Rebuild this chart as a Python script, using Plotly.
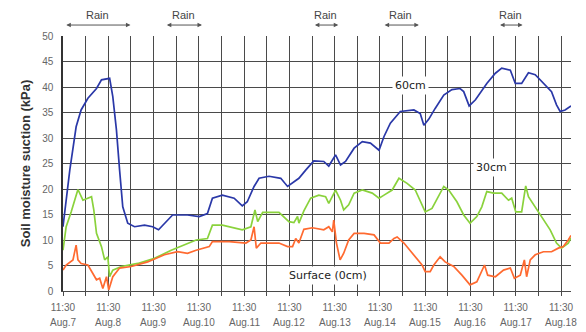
import plotly.graph_objects as go

# Elapsed time in days from Aug 7 11:30, and soil moisture suction (kPa)
day_60 = [0, 0.15, 0.29, 0.40, 0.55, 0.74, 0.85, 1.03, 1.10, 1.18, 1.25, 1.32, 1.43, 1.58, 1.80, 1.98,
          2.11, 2.24, 2.42, 2.75, 3.01, 3.19, 3.30, 3.52, 3.78, 3.96, 4.07, 4.22, 4.33, 4.55, 4.81,
          4.96, 5.10, 5.21, 5.36, 5.54, 5.76, 5.87, 6.02, 6.13, 6.24, 6.43, 6.61, 6.79, 6.98, 7.09,
          7.23, 7.45, 7.75, 7.89, 7.97, 8.08, 8.22, 8.41, 8.59, 8.77, 8.85, 8.97, 9.11, 9.36, 9.55,
          9.69, 9.88, 9.99, 10.13, 10.28, 10.43, 10.61, 10.79, 10.90, 10.98, 11.09, 11.22]
suction_60 = [12.6, 23.7, 32.2, 35.5, 37.8, 39.7, 41.4, 41.7, 38.1, 31.6, 23.7, 16.5, 13.3, 12.6, 12.9, 12.6,
              12.0, 13.3, 14.9, 14.9, 14.6, 15.2, 18.2, 18.8, 18.2, 16.7, 17.5, 20.5, 22.1, 22.5, 22.1,
              20.5, 21.4, 22.1, 23.7, 25.5, 25.4, 24.5, 26.7, 24.7, 25.4, 28.0, 29.3, 29.0, 27.6, 30.3,
              32.9, 35.2, 35.5, 34.8, 32.5, 33.7, 35.8, 38.4, 39.5, 39.7, 39.1, 36.3, 37.5, 40.7, 42.7,
              43.7, 43.3, 40.7, 40.7, 42.8, 42.4, 40.7, 39.1, 36.5, 35.2, 35.5, 36.3]

day_30 = [0, 0.07, 0.18, 0.26, 0.33, 0.44, 0.55, 0.63, 0.68, 0.74, 0.85, 0.92, 0.99, 1.03, 1.10, 1.29,
          1.65, 2.02, 2.39, 2.75, 2.94, 3.19, 3.30, 3.52, 3.78, 3.96, 4.15, 4.24, 4.30, 4.41, 4.77,
          4.99, 5.10, 5.18, 5.21, 5.32, 5.47, 5.65, 5.80, 5.87, 6.02, 6.13, 6.20, 6.31, 6.43, 6.61,
          6.83, 6.98, 7.09, 7.27, 7.42, 7.60, 7.78, 7.93, 8.00, 8.15, 8.30, 8.41, 8.52, 8.70, 8.85,
          8.99, 9.14, 9.25, 9.36, 9.51, 9.69, 9.84, 9.91, 10.00, 10.13, 10.22, 10.28, 10.43, 10.61,
          10.76, 10.90, 11.01, 11.16, 11.22]
suction_30 = [8.0, 12.6, 15.5, 17.8, 19.9, 17.8, 18.2, 18.5, 15.9, 11.3, 8.7, 6.1, 6.7, 2.8, 4.1, 4.8,
              5.4, 6.4, 8.0, 9.4, 10.0, 10.3, 12.9, 12.9, 12.3, 12.0, 12.6, 15.9, 13.6, 15.4, 15.4,
              13.6, 13.4, 14.6, 13.3, 15.7, 18.2, 18.8, 18.5, 17.2, 19.8, 17.8, 15.9, 16.9, 19.2, 19.8,
              19.2, 18.2, 18.8, 19.8, 22.1, 21.1, 19.8, 16.9, 15.5, 16.2, 18.8, 20.5, 19.8, 17.5, 14.9,
              13.3, 14.6, 16.5, 19.5, 19.2, 19.2, 17.8, 18.2, 15.5, 15.5, 20.6, 18.5, 16.5, 13.9,
              12.0, 9.4, 8.4, 9.4, 10.4]

day_0 = [0, 0.07, 0.22, 0.29, 0.33, 0.40, 0.55, 0.66, 0.74, 0.81, 0.88, 0.96, 1.01, 1.10, 1.25, 1.51,
         1.87, 2.24, 2.53, 2.75, 2.94, 3.23, 3.30, 3.67, 4.04, 4.15, 4.22, 4.27, 4.37, 4.77, 4.96,
         5.07, 5.14, 5.21, 5.32, 5.51, 5.76, 5.87, 5.95, 5.98, 6.04, 6.12, 6.20, 6.31, 6.43, 6.65,
         6.87, 7.01, 7.20, 7.31, 7.38, 7.53, 7.75, 7.93, 8.00, 8.11, 8.19, 8.33, 8.44, 8.63, 8.81,
         8.99, 9.14, 9.25, 9.31, 9.38, 9.55, 9.73, 9.88, 9.97, 10.10, 10.19, 10.24, 10.32, 10.43,
         10.61, 10.79, 10.94, 11.05, 11.16, 11.22]
suction_0 = [4.1, 5.1, 6.1, 9.0, 6.1, 5.4, 5.1, 3.5, 2.2, 2.5, 0.5, 2.8, 0.2, 2.8, 4.5, 4.8,
             5.7, 7.1, 7.7, 7.4, 8.0, 8.7, 9.7, 9.7, 9.4, 10.0, 12.6, 8.4, 9.4, 9.4, 8.7,
             8.7, 10.3, 9.4, 12.1, 12.4, 12.0, 12.6, 11.6, 13.9, 9.4, 6.1, 7.4, 10.0, 11.3, 11.3,
             11.0, 9.4, 9.4, 10.3, 10.6, 9.4, 7.1, 5.1, 3.8, 3.8, 5.1, 6.7, 5.7, 4.8, 3.1,
             1.2, 1.8, 4.1, 5.1, 3.1, 2.8, 4.1, 4.5, 2.5, 3.1, 6.1, 2.8, 6.1, 7.1,
             7.7, 7.7, 8.4, 8.7, 10.0, 10.9]

# Tick labels, one per day at 11:30
tick_days = list(range(12))
tick_time = ["11:30"] * 12
tick_dates = ["Aug.7", "Aug.8", "Aug.9", "Aug.10", "Aug.11", "Aug.12",
              "Aug.13", "Aug.14", "Aug.15", "Aug.16", "Aug.17", "Aug.18"]

# Rain periods (start day, end day)
rain_start = [0.04, 2.26, 5.53, 7.07, 9.62]
rain_end = [1.49, 3.07, 6.08, 7.86, 10.15]

# Depth labels placed on the curves
depth_names = ["60cm", "30cm", "Surface (0cm)"]
depth_x = [7.67, 9.46, 5.85]
depth_y = [40.2, 24.2, 3.0]

FONT = "Liberation Sans, Arial, sans-serif"
LABEL_FONT = "DejaVu Sans, Verdana, sans-serif"
GRID = "#4a4a4a"

fig = go.Figure()
fig.add_trace(go.Scatter(x=day_60, y=suction_60, mode="lines",
                         line=dict(color="#2a38a8", width=1.7), name="60cm"))
fig.add_trace(go.Scatter(x=day_30, y=suction_30, mode="lines",
                         line=dict(color="#8ad23c", width=1.7), name="30cm"))
fig.add_trace(go.Scatter(x=day_0, y=suction_0, mode="lines",
                         line=dict(color="#ff6a30", width=1.7), name="Surface (0cm)"))

annotations = []
for s, e in zip(rain_start, rain_end):
    annotations.append(dict(x=e, y=1.043, xref="x", yref="paper",
                            ax=s, axref="x", ay=0, ayref="pixel",
                            text="", showarrow=True, arrowside="end+start",
                            arrowhead=2, arrowsize=0.9, arrowwidth=1, arrowcolor="#555"))
    annotations.append(dict(x=(s + e) / 2, y=1.05, xref="x", yref="paper",
                            text="Rain", showarrow=False, yanchor="bottom",
                            font=dict(family=FONT, size=11, color="#444")))
for name, x, y in zip(depth_names, depth_x, depth_y):
    annotations.append(dict(x=x, y=y, xref="x", yref="y", text=name, showarrow=False,
                            bgcolor="white", borderpad=2,
                            font=dict(family=LABEL_FONT, size=11, color="#222")))
for d, lab in zip(tick_days, tick_dates):
    annotations.append(dict(x=d, y=-0.096, xref="x", yref="paper", text=lab,
                            showarrow=False, yanchor="top",
                            font=dict(family=FONT, size=10, color="#666")))

fig.update_layout(
    width=586, height=332,
    margin=dict(l=63, r=12, t=36, b=41),
    paper_bgcolor="white", plot_bgcolor="white",
    showlegend=False,
    annotations=annotations,
    font=dict(family=FONT),
)
fig.update_xaxes(
    range=[0, 11.22], tickvals=tick_days, ticktext=tick_time,
    tickfont=dict(family=FONT, size=10, color="#666"),
    showgrid=True, gridcolor=GRID, gridwidth=1,
    ticks="outside", ticklen=4, tickcolor=GRID, ticklabelstandoff=3,
    minor=dict(dtick=0.5, tick0=0, showgrid=True, gridcolor=GRID, gridwidth=1,
               ticks="outside", ticklen=4, tickcolor=GRID),
    showline=True, linecolor=GRID, linewidth=1, zeroline=False,
)
fig.update_yaxes(
    range=[0, 50], dtick=5, tick0=0,
    tickfont=dict(family=FONT, size=10, color="#666"),
    showgrid=True, gridcolor=GRID, gridwidth=1,
    showline=True, linecolor="#333", linewidth=1.5, zeroline=False,
    ticks="", ticklabelstandoff=6,
    title=dict(text="<b>Soil moisture suction (kPa)</b>", standoff=9,
               font=dict(family=FONT, size=13, color="#333")),
)

fig.write_html("out.html")
